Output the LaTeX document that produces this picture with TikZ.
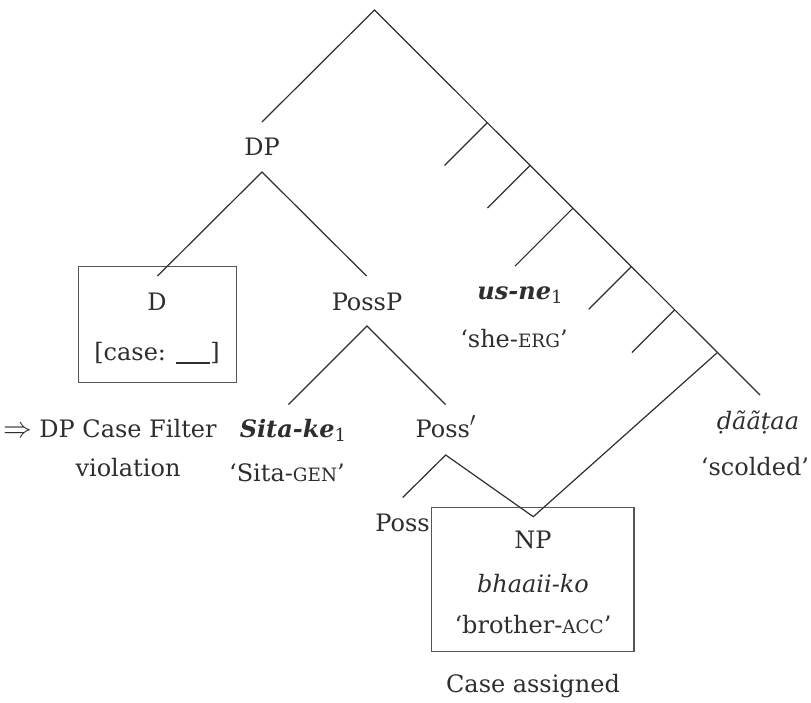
\documentclass[tikz,border=0pt]{standalone}
\usepackage{fontspec}
\setmainfont{DejaVu Serif}
\definecolor{ink}{HTML}{2E2E2E}
\definecolor{boxline}{HTML}{555555}
% small capitals for glossing abbreviations
\newcommand\glabbr[1]{{\fontsize{9.2pt}{10pt}\selectfont #1}}
% coindexing subscript
\newcommand\idx[1]{\raisebox{-0.4ex}{\fontsize{9pt}{9pt}\selectfont\mdseries\upshape #1}}
\begin{document}
\begin{tikzpicture}[x=0.5pt,y=-0.5pt,
  font=\fontsize{12pt}{14pt}\selectfont,
  tree/.style={draw=ink, line width=0.6pt},
  lbl/.style={inner sep=0pt, anchor=base, text=ink},
  frame/.style={draw=boxline, line width=0.75pt, inner sep=0pt}]
\useasboundingbox (0,0) rectangle (811,703);

% ---- labels ----
\node[lbl] (dp) at (262,155) {DP};
\node[frame, minimum width=79.2pt, minimum height=58pt] (dbox) at (157.5,324.7) {};
\node[lbl] (d) at (157,310) {D};
\node[lbl] (dcase) at (157,360) {[case: \rule[-2pt]{17pt}{0.8pt}]};
\node[lbl] (possp) at (367,310) {PossP};
\node[lbl] (usne) at (520,299) {\textbf{\textit{us-ne}}\idx{1}};
\node[lbl] (she) at (514,347) {‘she-\glabbr{ERG}’};
\node[lbl] (filter) at (128,437) {DP Case Filter};
\node[lbl, anchor=base east] (implies) at ([xshift=-3pt]filter.base west)
  {\fontsize{14.5pt}{15pt}\selectfont$\Rightarrow$};
\node[lbl] (viol) at (128,476) {violation};
\node[lbl] (sita) at (293,437) {\textbf{\textit{Sita-ke}}\idx{1}};
\node[lbl] (sitagl) at (287,481) {‘Sita-\glabbr{GEN}’};
\node[lbl] (possbar) at (446,437) {Poss{\fontsize{14pt}{14pt}\selectfont$'$}};
\node[lbl] (poss) at (402.5,531) {Poss};
\node[frame, minimum width=101.2pt, minimum height=72pt] (npbox) at (532.9,579.7) {};
\node[lbl] (np) at (533,548) {NP};
\node[lbl] (bhaaii) at (533,592) {\textit{bhaaii-ko}};
\node[lbl] (brother) at (533,633) {‘brother-\glabbr{ACC}’};
\node[lbl] (assigned) at (533,692) {Case assigned};
\node[lbl] (daataa) at (758,429) {\textit{ḍããṭaa}};
\node[lbl] (scolded) at (755,475) {‘scolded’};

% ---- tree points ----
\coordinate (root) at (374.5,10);
\coordinate (dpTop) at (262,122);
\coordinate (dpBot) at (262,172);
\coordinate (dTip) at (157.5,276);
\coordinate (posspTop) at (366.5,276);
\coordinate (posspBot) at (367,326);
\coordinate (sitaTip) at (288.5,404.5);
\coordinate (possbarTop) at (445.5,404.5);
\coordinate (possbarBot) at (445.7,455);
\coordinate (possTip) at (402.7,497.5);
\coordinate (npTip) at (533.3,516.7);
\coordinate (vEnd) at (760,395);
% branch points on the spine and their free ends
\coordinate (b1) at (487.2,122.7); \coordinate (e1) at (444.5,165.4);
\coordinate (b2) at (530.0,165.5); \coordinate (e2) at (487.5,208.0);
\coordinate (b3) at (572.8,208.3); \coordinate (e3) at (515.0,266.1);
\coordinate (b4) at (631.2,266.7); \coordinate (e4) at (588.7,309.2);
\coordinate (b5) at (674.5,310.0); \coordinate (e5) at (632.0,352.5);
\coordinate (b6) at (717.2,352.7);

% ---- branches ----
\draw[tree] (dpTop) -- (root) -- (vEnd);
\draw[tree] (dTip) -- (dpBot) -- (posspTop);
\draw[tree] (sitaTip) -- (posspBot) -- (possbarTop);
\draw[tree] (possTip) -- (possbarBot) -- (npTip) -- (b6);
\draw[tree] (b1) -- (e1);
\draw[tree] (b2) -- (e2);
\draw[tree] (b3) -- (e3);
\draw[tree] (b4) -- (e4);
\draw[tree] (b5) -- (e5);
\end{tikzpicture}
\end{document}
